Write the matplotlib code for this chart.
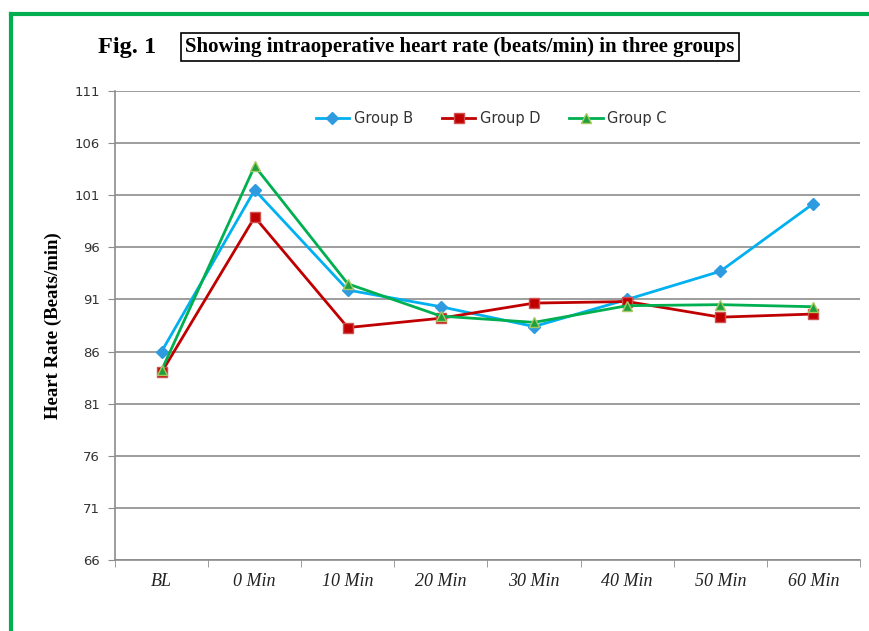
import matplotlib.pyplot as plt
from matplotlib.lines import Line2D

categories = ["BL", "0 Min", "10 Min", "20 Min", "30 Min", "40 Min", "50 Min", "60 Min"]
group_b = [86.0, 101.5, 91.9, 90.3, 88.4, 91.0, 93.7, 100.2]
group_d = [84.0, 98.9, 88.3, 89.2, 90.65, 90.8, 89.3, 89.6]
group_c = [84.2, 103.8, 92.5, 89.4, 88.8, 90.4, 90.5, 90.3]
y_ticks = [66, 71, 76, 81, 86, 91, 96, 101, 106, 111]

fig = plt.figure(figsize=(8.7, 6.31), dpi=100)
ax = fig.add_axes([115 / 870, 1 - 560 / 631, 745 / 870, 469 / 631])

x = list(range(len(categories)))
ax.plot(x, group_b, color="#00B0F0", lw=2.0, marker="D", ms=6,
        mfc="#2E9BE0", mec="#2E9BE0", label="Group B")
ax.plot(x, group_d, color="#C00000", lw=2.0, marker="s", ms=7,
        mfc="#C00000", mec="#D05050", label="Group D")
ax.plot(x, group_c, color="#00B050", lw=2.0, marker="^", ms=7,
        mfc="#1FA040", mec="#A8C860", label="Group C")

ax.set_xlim(-0.5, len(categories) - 0.5)
ax.set_ylim(66, 111)
ax.set_yticks(y_ticks)
ax.set_yticklabels([str(v) for v in y_ticks], fontsize=9.5, color="#333333",
                   family="DejaVu Sans")
ax.yaxis.grid(True, color="#8C8C8C", lw=1.2)
ax.set_axisbelow(True)

ax.set_xticks(x)
ax.set_xticklabels(categories, family="Liberation Serif", style="italic",
                   fontsize=13, color="#222222")
ax.tick_params(axis="x", length=0, pad=9)
ax.set_xticks([i - 0.5 for i in range(len(categories) + 1)], minor=True)
ax.tick_params(axis="x", which="minor", length=5, color="#8C8C8C", direction="out")
ax.tick_params(axis="y", length=5, color="#8C8C8C", direction="out", pad=6)

for side in ["top", "right"]:
    ax.spines[side].set_visible(False)
for side in ["left", "bottom"]:
    ax.spines[side].set_color("#8C8C8C")
    ax.spines[side].set_linewidth(1.2)

ax.set_ylabel("Heart Rate (Beats/min)", family="Liberation Serif",
              fontweight="bold", fontsize=13.5, labelpad=9)

ax.legend(loc="upper center", bbox_to_anchor=(0.505, 0.985), ncol=3,
          frameon=False, fontsize=10.5, handlelength=2.3, columnspacing=2.0,
          handletextpad=0.3, labelcolor="#333333")

# title row
fig.text(98 / 870, 1 - 47 / 631, "Fig. 1", family="Liberation Serif",
         fontweight="bold", fontsize=17.5, va="center", ha="left")
fig.text(460 / 870, 1 - 47 / 631,
         "Showing intraoperative heart rate (beats/min) in three groups",
         family="Liberation Serif", fontweight="bold", fontsize=15,
         va="center", ha="center",
         bbox=dict(boxstyle="square,pad=0.2", fc="white", ec="black", lw=1.2))

# green page frame, open to the right and bottom
fig.add_artist(Line2D([11 / 870, 1.0], [1 - 14 / 631, 1 - 14 / 631],
                      color="#00B050", lw=3, transform=fig.transFigure))
fig.add_artist(Line2D([11 / 870, 11 / 870], [0.0, 1 - 14 / 631],
                      color="#00B050", lw=3, transform=fig.transFigure))

fig.savefig("out.png", dpi=100)
